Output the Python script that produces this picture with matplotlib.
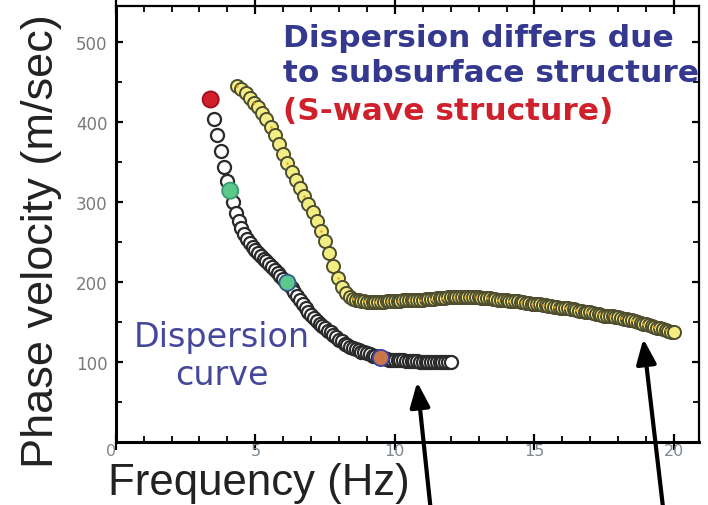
#!/usr/bin/env python3
"""
Surface-wave dispersion curves: phase velocity vs frequency.
Output: out.png
"""

import matplotlib
matplotlib.use("Agg")          # headless backend
import matplotlib.pyplot as plt

# ---- dispersion curve 1 (white/black markers) ----
FREQ_A = [
    3.40, 3.52, 3.64, 3.76, 3.88, 4.00, 4.10, 4.20, 4.30, 4.40,
    4.50, 4.60, 4.70, 4.80, 4.90, 5.00, 5.10, 5.20, 5.30, 5.40,
    5.50, 5.60, 5.70, 5.80, 5.90, 6.00, 6.10, 6.20, 6.30, 6.40,
    6.50, 6.60, 6.70, 6.80, 6.90, 7.00, 7.10, 7.20, 7.30, 7.40,
    7.50, 7.60, 7.70, 7.80, 7.90, 8.00, 8.10, 8.20, 8.30, 8.40,
    8.50, 8.60, 8.70, 8.80, 8.90, 9.00, 9.10, 9.20, 9.30, 9.40,
    9.50, 9.60, 9.70, 9.80, 9.90, 10.00, 10.10, 10.20, 10.30, 10.40,
    10.50, 10.60, 10.70, 10.80, 10.90, 11.00, 11.10, 11.20, 11.30, 11.40,
    11.50, 11.60, 11.70, 11.80, 11.90, 12.00,
]
VEL_A = [
    428, 404, 384, 364, 344, 326, 314, 300, 286, 276,
    267, 260, 254, 249, 244, 240, 236, 233, 229, 226,
    222, 219, 215, 211, 208, 204, 200, 196, 192, 187,
    182, 177, 172, 167, 163, 159, 155, 151, 148, 145,
    142, 139, 137, 134, 131, 128, 126, 123, 121, 119,
    118, 116, 115, 113, 112, 111, 110, 108, 107, 106,
    105, 105, 104, 103, 103, 102, 102, 102, 102, 101,
    101, 101, 101, 101, 100, 100, 100, 100, 100, 100,
    100, 100, 100, 100, 100, 100,
]

# highlighted samples on curve 1
HILITE_F = [3.40, 4.10, 6.15, 9.50]
HILITE_V = [428, 314, 199, 105]
HILITE_FACE = ["#d0202a", "#5cc98c", "#5cc98c", "#c8764a"]
HILITE_EDGE = ["#a01020", "#3a9a6a", "#2f5a90", "#3a40a8"]

# ---- dispersion curve 2 (yellow markers) ----
FREQ_B = [
    4.35, 4.50, 4.65, 4.80, 4.95, 5.10, 5.25, 5.40, 5.55, 5.70,
    5.85, 6.00, 6.15, 6.30, 6.45, 6.60, 6.75, 6.90, 7.05, 7.20,
    7.35, 7.50, 7.65, 7.80, 7.95, 8.10, 8.25,
    8.4, 8.5, 8.6, 8.7, 8.8, 8.9, 9.0, 9.1, 9.2, 9.3,
    9.4, 9.5, 9.6, 9.7, 9.8, 9.9, 10.0, 10.1, 10.2, 10.3,
    10.4, 10.5, 10.6, 10.7, 10.8, 10.9, 11.0, 11.1, 11.2, 11.3,
    11.4, 11.5, 11.6, 11.7, 11.8, 11.9, 12.0, 12.1, 12.2, 12.3,
    12.4, 12.5, 12.6, 12.7, 12.8, 12.9, 13.0, 13.1, 13.2, 13.3,
    13.4, 13.5, 13.6, 13.7, 13.8, 13.9, 14.0, 14.1, 14.2, 14.3,
    14.4, 14.5, 14.6, 14.7, 14.8, 14.9, 15.0, 15.1, 15.2, 15.3,
    15.4, 15.5, 15.6, 15.7, 15.8, 15.9, 16.0, 16.1, 16.2, 16.3,
    16.4, 16.5, 16.6, 16.7, 16.8, 16.9, 17.0, 17.1, 17.2, 17.3,
    17.4, 17.5, 17.6, 17.7, 17.8, 17.9, 18.0, 18.1, 18.2, 18.3,
    18.4, 18.5, 18.6, 18.7, 18.8, 18.9, 19.0, 19.1, 19.2, 19.3,
    19.4, 19.5, 19.6, 19.7, 19.8, 19.9, 20.0,
]
VEL_B = [
    445, 441, 436, 430, 424, 418, 411, 403, 394, 383,
    372, 360, 348, 337, 327, 317, 307, 297, 287, 276,
    264, 251, 236, 220, 205, 194, 186,
    181, 179, 178, 177, 176, 176, 175, 175, 175, 175,
    175, 175, 175, 176, 176, 176, 176, 176, 176, 177,
    177, 177, 177, 178, 178, 178, 178, 179, 179, 179,
    179, 180, 180, 180, 180, 181, 181, 181, 181, 181,
    181, 181, 181, 181, 181, 181, 181, 180, 180, 180,
    180, 179, 179, 178, 178, 177, 177, 176, 176, 176,
    176, 175, 175, 174, 174, 173, 173, 172, 172, 171,
    171, 170, 170, 169, 169, 168, 168, 167, 167, 166,
    166, 165, 164, 164, 163, 162, 162, 161, 160, 160,
    159, 158, 158, 157, 157, 156, 156, 155, 154, 154,
    153, 152, 151, 150, 149, 148, 147, 146, 145, 144,
    143, 142, 141, 140, 139, 138, 137,
]

# arrows: tip (freq, vel) and tail (freq, vel), tails sit below the axes
ARROW_TIPS = [(10.8, 75), (18.9, 129)]
ARROW_TAILS = [(11.27, -80), (19.6, -80)]

NAVY = "#34388f"
RED = "#d0202c"


def main() -> None:
    fig = plt.figure(figsize=(7.08, 5.06), dpi=100)
    ax = fig.add_axes([0.1635, 0.1245, 0.824, 0.862])

    # ---- curves ----
    ax.plot(FREQ_A, VEL_A, "o", ms=9.4, mfc="white", mec="#2a2a2a",
            mew=1.6, zorder=3)
    ax.scatter(HILITE_F, HILITE_V, s=135, c=HILITE_FACE,
               edgecolors=HILITE_EDGE, linewidths=1.3, zorder=4)

    ax.plot(FREQ_B, VEL_B, "o", ms=9.4, mfc="#f2ee84", mec="#4e4d2e",
            mew=1.4, zorder=3)
    ax.plot(FREQ_B, VEL_B, "o", ms=1.8, color="#f0a020", mew=0,
            markevery=4, zorder=4)

    # ---- axes styling ----
    ax.set_xlim(0, 20.9)
    ax.set_ylim(0, 545)
    for side in ("left", "bottom"):
        ax.spines[side].set_linewidth(2.2)
    for side in ("right", "top"):
        ax.spines[side].set_linewidth(1.6)

    ax.set_xticks([0, 5, 10, 15, 20])
    ax.set_xticks(range(0, 21), minor=True)
    ax.set_yticks([100, 200, 300, 400, 500])
    ax.set_yticks(range(0, 550, 50), minor=True)
    ax.tick_params(axis="x", which="major", direction="inout", length=12,
                   width=1.6, top=True, labelsize=11.5, labelcolor="#7f8890",
                   pad=-5)
    ax.tick_params(axis="x", which="minor", direction="in", length=4,
                   width=1.3, top=True)
    ax.tick_params(axis="y", which="major", direction="in", length=5,
                   width=1.6, right=True, labelsize=12, labelcolor="#7a7a7a",
                   pad=6)
    ax.tick_params(axis="y", which="minor", direction="in", length=4,
                   width=1.3, right=True)
    for lab in ax.get_xticklabels() + ax.get_yticklabels():
        lab.set_family("DejaVu Sans")
    ax.get_xticklabels()[0].set_horizontalalignment("right")

    # ---- axis labels ----
    fig.text(0.058, 0.524, "Phase velocity (m/sec)", rotation=90,
             ha="center", va="center", fontsize=32.5,
             family="Liberation Sans", color="#222222")
    fig.text(0.366, 0.0217, "Frequency (Hz)", ha="center", va="baseline",
             fontsize=31.5, family="Liberation Sans", color="#222222")

    # ---- annotations ----
    ax.text(6.0, 495, "Dispersion differs due", fontsize=22.5,
            fontweight="bold", color=NAVY, va="baseline")
    ax.text(6.0, 451, "to subsurface structure", fontsize=22.5,
            fontweight="bold", color=NAVY, va="baseline")
    ax.text(6.0, 404, "(S-wave structure)", fontsize=22.5,
            fontweight="bold", color=RED, va="baseline")
    ax.text(3.79, 120, "Dispersion", fontsize=24, color="#45479a",
            ha="center", va="baseline")
    ax.text(3.79, 72.5, "curve", fontsize=24, color="#45479a",
            ha="center", va="baseline")

    for tip, tail in zip(ARROW_TIPS, ARROW_TAILS):
        ax.annotate("", xy=tip, xytext=tail, annotation_clip=False,
                    arrowprops=dict(arrowstyle="-|>,head_length=1.5,head_width=0.6",
                                    color="black", lw=3, shrinkA=0, shrinkB=0),
                    zorder=5)

    fig.savefig("out.png", dpi=100)
    plt.close(fig)


if __name__ == "__main__":
    main()
